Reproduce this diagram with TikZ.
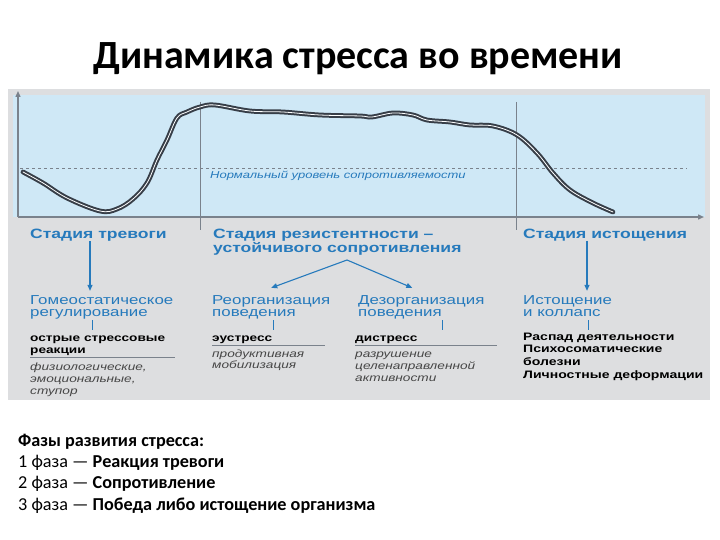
\documentclass[tikz,border=0pt]{standalone}
\usepackage{fontspec}
\setmainfont{Carlito}
\newfontfamily\diagfont[FakeStretch=1.3]{Liberation Sans}
\usetikzlibrary{arrows.meta}

\definecolor{panelgray}{RGB}{221,222,224}
\definecolor{plotblue}{RGB}{207,232,246}
\definecolor{axisgray}{RGB}{122,130,140}
\definecolor{stageblue}{RGB}{38,122,188}
\definecolor{curvedark}{RGB}{55,62,72}
\definecolor{notegray}{RGB}{70,70,70}

\begin{document}
\begin{tikzpicture}[
    x=1pt, y=-1pt,
    >={Triangle[length=6pt, width=5pt]},
    stagetxt/.style={anchor=base west, inner sep=0pt, align=left, text=stageblue, font=\diagfont\bfseries\fontsize{13.5}{14}\selectfont},
    subtxt/.style={anchor=base west, inner sep=0pt, align=left, text=stageblue, font=\diagfont\fontsize{13}{12}\selectfont},
    boldtxt/.style={anchor=base west, inner sep=0pt, align=left, text=black, font=\diagfont\bfseries\fontsize{10.5}{12}\selectfont},
    notetxt/.style={anchor=base west, inner sep=0pt, align=left, text=notegray, font=\diagfont\itshape\fontsize{10.5}{12}\selectfont},
    stagearrow/.style={->, line width=1.1pt, stageblue},
    tickline/.style={line width=1pt, stageblue},
    ruleline/.style={line width=0.6pt, axisgray},
    sepline/.style={line width=0.6pt, axisgray},
    axisline/.style={->, line width=1.4pt, axisgray}
]
\useasboundingbox (0,0) rectangle (720,540);

% ==========================================
% Title
% ==========================================
\node[anchor=base, inner sep=0pt, font=\bfseries\fontsize{40}{46}\selectfont] (title) at (358,69) {Динамика стресса во времени};

% ==========================================
% Panel and plot area
% ==========================================
\fill[panelgray] (8,89) rectangle (710,400);
\fill[plotblue] (13,95) rectangle (705,217);

% Normal level
\draw[axisgray, dashed, line width=0.5pt] (20,168) -- (687,168);
\node[anchor=base west, inner sep=0pt, text=stageblue, font=\diagfont\itshape\fontsize{10}{12}\selectfont] (normal) at (210,179) {Нормальный уровень сопротивляемости};

% Stage borders
\draw[sepline] (200,102) -- (200,230);
\draw[sepline] (516,102) -- (516,230);

% Axes
\coordinate (origin) at (18,217);
\draw[axisline] (origin) -- (18,91);
\draw[axisline] (origin) -- (704,217);

% Stress curve
\draw[curvedark, line width=2pt, double=white, double distance=0.8pt, line cap=round]
    plot[smooth, tension=0.6] coordinates {
    (23,172) (43,183) (67,198) (100,211) (117,209) (133,199) (147,183)
    (157,160) (167,140) (177,118) (187,112) (200,107) (215,105)
    (250,111) (283,112) (320,115) (360,116) (372,117) (393,113)
    (413,115) (427,120) (450,122) (470,125) (493,126) (517,135)
    (537,153) (553,173) (570,190) (593,203) (613,212)};

% ==========================================
% Stage headings (base = last line)
% ==========================================
\node[stagetxt] (alarm) at (30,238) {Стадия тревоги};
\node[stagetxt] (resist) at (213,252) {Стадия резистентности –\\устойчивого сопротивления};
\node[stagetxt] (exhaust) at (523,238) {Стадия истощения};

% Reactions
\node[subtxt] (homeo) at (30,316) {Гомеостатическое\\регулирование};
\node[subtxt] (reorg) at (212,316) {Реорганизация\\поведения};
\node[subtxt] (disorg) at (358,316) {Дезорганизация\\поведения};
\node[subtxt] (collapse) at (523,316) {Истощение\\и коллапс};

% Arrows from the stages
\draw[stagearrow] (alarm.south -| 90,0) -- ([yshift=4pt]homeo.north -| 90,0);
\draw[stagearrow] (exhaust.south -| 587,0) -- ([yshift=4pt]collapse.north -| 587,0);
\coordinate (split) at (347,260);
\draw[stagearrow] (split) -- ([yshift=7pt]reorg.north);
\draw[stagearrow] (split) -- ([xshift=-9pt, yshift=7pt]disorg.north);

% ==========================================
% Outcomes
% ==========================================
\node[boldtxt] (acute) at (30,353) {острые стрессовые\\реакции};
\node[boldtxt] (eustress) at (212,341) {эустресс};
\node[boldtxt] (distress) at (355,341) {дистресс};
\node[boldtxt, font=\diagfont\bfseries\fontsize{10.8}{12.6}\selectfont] (decay) at (523,378) {Распад деятельности\\Психосоматические\\болезни\\Личностные деформации};

\node[notetxt] (physio) at (30,394) {физиологические,\\эмоциональные,\\ступор};
\node[notetxt, font=\diagfont\itshape\fontsize{10.5}{10.5}\selectfont] (mobil) at (212,368) {продуктивная\\мобилизация};
\node[notetxt] (ruin) at (355,381) {разрушение\\целенаправленной\\активности};

% Ticks
\draw[tickline] (92,320) -- (92,330);
\draw[tickline] (273,320) -- (273,330);
\draw[tickline] (442,320) -- (442,330);
\draw[tickline] (588,320) -- (588,330);

% Rules under outcomes
\draw[ruleline] (30,357) -- (175,357);
\draw[ruleline] (212,345) -- (325,345);
\draw[ruleline] (355,345) -- (497,345);

% ==========================================
% Phases
% ==========================================
\node[anchor=base west, inner sep=0pt, align=left, font=\fontsize{18.2}{21.2}\selectfont] (phases) at (18,510)
    {\textbf{Фазы развития стресса:}\\
     1 фаза — \textbf{Реакция тревоги}\\
     2 фаза — \textbf{Сопротивление}\\
     3 фаза — \textbf{Победа либо истощение организма}};
\end{tikzpicture}
\end{document}
